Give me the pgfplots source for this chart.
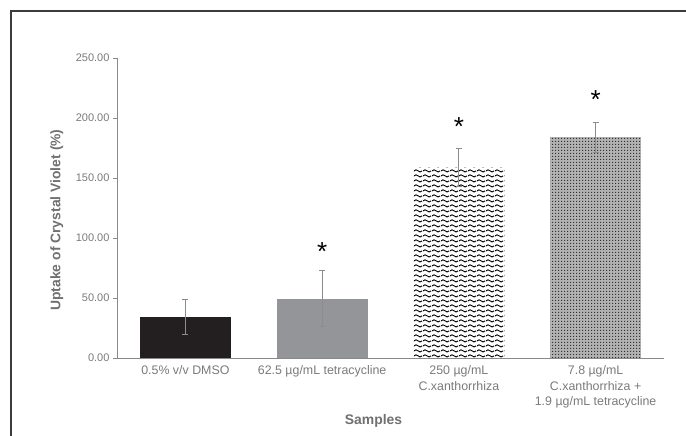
\documentclass[border=0pt]{standalone}
\usepackage{fontspec}
\setmainfont{Liberation Sans}
\usepackage{pgfplots}
\pgfplotsset{compat=1.18}
\usetikzlibrary{patterns}

\definecolor{barblack}{HTML}{231F20}
\definecolor{bargray}{HTML}{939598}
\definecolor{axisgray}{HTML}{898989}
\definecolor{tickgray}{HTML}{7A7A7A}
\definecolor{labelgray}{HTML}{707070}
\definecolor{errgray}{HTML}{8C8C8C}
\definecolor{framegray}{HTML}{3C3C3C}

% wavy fill for the C. xanthorrhiza bar
\pgfdeclarepatternformonly{sinewaves}{\pgfpointorigin}{\pgfpoint{9pt}{4.6pt}}{\pgfpoint{9pt}{4.6pt}}{%
  \pgfsetlinewidth{1pt}%
  \pgfpathmoveto{\pgfpoint{0pt}{2.3pt}}%
  \pgfpathsine{\pgfpoint{2.25pt}{1.15pt}}%
  \pgfpathcosine{\pgfpoint{2.25pt}{-1.15pt}}%
  \pgfpathsine{\pgfpoint{2.25pt}{-1.15pt}}%
  \pgfpathcosine{\pgfpoint{2.25pt}{1.15pt}}%
  \pgfusepath{stroke}}

% fine dotted grid for the combination bar
\pgfdeclarepatternformonly{dotgrid}{\pgfpointorigin}{\pgfpoint{3pt}{3pt}}{\pgfpoint{3pt}{3pt}}{%
  \pgfpathrectangle{\pgfpointorigin}{\pgfpoint{1.4pt}{1.4pt}}%
  \pgfusepath{fill}}

\pgfplotsset{
  sd bars/.style={
    error bars/y dir=both, error bars/y explicit,
    error bars/error bar style={draw=errgray, line width=0.8pt},
    error bars/error mark options={rotate=90, mark size=3pt, draw=errgray, line width=0.8pt}},
}

\begin{document}
\begin{tikzpicture}[x=1pt,y=1pt]
\begin{axis}[
  at={(117pt,78pt)}, anchor=south west,
  scale only axis, width=547pt, height=300pt,
  xmin=-0.5, xmax=3.5, ymin=0, ymax=250,
  axis lines*=left,
  axis line style={draw=axisgray, line width=0.9pt},
  xtick={0,1,2,3},
  xticklabels={0.5\% v/v DMSO, 62.5 µg/mL tetracycline, 250 µg/mL\\C.xanthorrhiza, 7.8 µg/mL\\C.xanthorrhiza +\\1.9 µg/mL tetracycline},
  xtick style={draw=none},
  xticklabel style={align=center, font=\fontsize{12.4}{15.5}\selectfont, text=tickgray},
  ytick={0,50,100,150,200,250},
  ytick style={draw=axisgray, line width=0.8pt},
  tick align=outside, major tick length=4pt,
  /pgf/number format/assume math mode=true,
  yticklabel style={font=\fontsize{11}{12}\selectfont, text=tickgray,
    /pgf/number format/.cd, fixed, fixed zerofill, precision=2},
  ylabel={Uptake of Crystal Violet (\%)},
  ylabel style={at={(axis description cs:-0.11,0.46)}, anchor=center,
    font=\bfseries\fontsize{13.9}{16}\selectfont, text=labelgray},
  xlabel={Samples},
  xlabel style={at={(axis description cs:0.469,-0.21)}, anchor=center,
    font=\bfseries\fontsize{13.9}{16}\selectfont, text=labelgray},
  ybar, bar width=91pt, bar shift=0pt,
  clip=false,
]
\addplot[fill=barblack, draw=none, sd bars] coordinates {(0,34.5) +- (0,14.5)};
\addplot[fill=bargray, draw=none, sd bars] coordinates {(1,49.5) +- (0,23.5)};
\addplot[draw=none, pattern=sinewaves, pattern color=black, sd bars] coordinates {(2,159) +- (0,15.7)};
\addplot[draw=none, fill=black!30, postaction={pattern=dotgrid, pattern color=black!80}, sd bars] coordinates {(3,184) +- (0,12.5)};

% significance markers
\node[anchor=base, yshift=-15pt, font=\fontsize{26}{26}\selectfont] at (axis cs:1,94) {*};
\node[anchor=base, yshift=-15pt, font=\fontsize{26}{26}\selectfont] at (axis cs:2,198) {*};
\node[anchor=base, yshift=-15pt, font=\fontsize{26}{26}\selectfont] at (axis cs:3,220) {*};
\end{axis}
% border of the figure panel
\draw[framegray, line width=1.6pt] (11pt,-5pt) -- (11pt,425pt) -- (691pt,425pt);
\pgfresetboundingbox
\useasboundingbox (0,0) rectangle (686pt,436pt);
\end{tikzpicture}
\end{document}
